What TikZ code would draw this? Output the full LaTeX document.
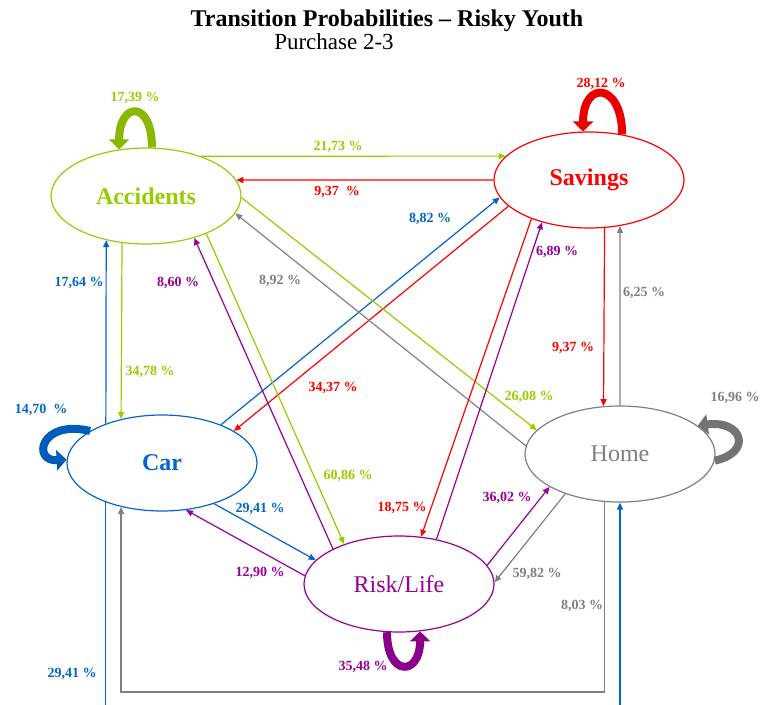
\documentclass[tikz,border=0pt]{standalone}
\usepackage{fontspec}
\setmainfont{Liberation Serif}
\usetikzlibrary{arrows.meta,shapes.geometric}
\definecolor{accgreen}{RGB}{153,204,0}
\definecolor{savred}{RGB}{255,0,0}
\definecolor{carblue}{RGB}{0,102,204}
\definecolor{homegray}{RGB}{128,128,128}
\definecolor{riskpurple}{RGB}{153,0,153}

\tikzset{
  stat/.style={ellipse,minimum width=190pt,minimum height=96pt,inner sep=0pt,
    line width=1.2pt,font=\fontsize{24}{24}\selectfont},
  trans/.style={line width=1.2pt,-{Triangle[length=7pt,width=6pt]}},
  selfarr/.style={line width=8pt,-{Triangle[length=10pt,width=20pt]}},
  pct/.style={font=\fontsize{14}{14}\selectfont\bfseries,inner sep=0pt}
}

\begin{document}
\begin{tikzpicture}[x=1pt,y=-1pt]
  \useasboundingbox (0,0) rectangle (760,704);
  \fill[white] (0,0) rectangle (760,704);
  \clip (0,0) rectangle (760,704);

  % title
  \node[font=\fontsize{24}{24}\selectfont\bfseries,anchor=base,inner sep=0pt] (title) at (387,27)
    {Transition Probabilities -- Risky Youth};
  \node[font=\fontsize{23}{23}\selectfont,anchor=base,inner sep=0pt] (sub) at (334,49) {Purchase 2-3};

  % states
  \foreach \n/\x/\y/\col/\f/\txt in {
    acc/146/196/accgreen/\bfseries/Accidents,
    sav/589/180/savred/\bfseries/Savings,
    car/162/463/carblue/\bfseries/Car,
    home/620/454/homegray/\mdseries/Home,
    risk/399/584/riskpurple/\mdseries/{Risk/Life}}{
    \node[stat,draw=\col,text=\col] (\n) at (\x,\y) {\f\txt};
  }

  % transitions between states
  \foreach \a/\aa/\b/\bb/\col in {
    acc/36/sav/164/accgreen,
    sav/180/acc/10/savred,
    acc/-117/car/133/accgreen,
    car/145/acc/-132/carblue,
    car/33/sav/-169/carblue,
    sav/-162/car/24/savred,
    acc/-32/risk/144/accgreen,
    risk/152/acc/-41/riskpurple,
    acc/-1/home/164/accgreen,
    home/175/acc/-11/homegray,
    sav/-72/home/109/savred,
    home/90/sav/-56/homegray,
    sav/-146/risk/65/savred,
    risk/50/sav/-138/riskpurple,
    risk/12/home/-155/riskpurple,
    home/-144/risk/1/homegray,
    car/-38/risk/164/carblue,
    risk/175/car/-63/riskpurple}{
    \draw[trans,\col] (\a.\aa) -- (\b.\bb);
  }

  % routed round the bottom
  \coordinate (bbot) at (0,730);
  \coordinate (gbot) at (0,692);
  \draw[trans,carblue] (car.-145) -- (car.-145 |- bbot) -| (home.-90);
  \draw[trans,homegray] (home.-108) -- (home.-108 |- gbot) -| (car.-133);

  % self loops
  \draw[selfarr,accgreen!90!black] (acc.83) .. controls +(0,-48) and +(0,-48) .. (acc.120);
  \draw[selfarr,savred!92!black] (sav.54) .. controls +(0,-52) and +(0,-52) .. (sav.97);
  \draw[selfarr,carblue!90!black] (car.156) .. controls +(-50,-12) and +(-35,2) .. (car.178);
  \draw[selfarr,homegray!90!black] (home.-4) .. controls +(38,-8) and +(45,-6) .. (home.20);
  \draw[selfarr,riskpurple!90!black] (risk.-104) .. controls +(0,45) and +(0,45) .. (risk.-66);

  % percentages
  \foreach \x/\y/\col/\v [count=\i] in {
    135/98/accgreen/{17,39 \%},
    338/147/accgreen/{21,73 \%},
    337/192/savred/{9,37\ \ \%},
    601/84/savred/{28,12 \%},
    430/219/carblue/{8,82 \%},
    557/252/riskpurple/{6,89 \%},
    79/283/carblue/{17,64 \%},
    178/283/riskpurple/{8,60 \%},
    280/281/homegray/{8,92 \%},
    644/293/homegray/{6,25 \%},
    150/372/accgreen/{34,78 \%},
    573/348/savred/{9,37 \%},
    333/388/savred/{34,37 \%},
    529/397/accgreen/{26,08 \%},
    41/410/carblue/{14,70\ \ \%},
    735/398/homegray/{16,96 \%},
    348/476/accgreen/{60,86 \%},
    260/509/carblue/{29,41 \%},
    402/508/savred/{18,75 \%},
    507/498/riskpurple/{36,02 \%},
    260/573/riskpurple/{12,90 \%},
    537/574/homegray/{59,82 \%},
    582/606/homegray/{8,03 \%},
    363/667/riskpurple/{35,48 \%},
    72/674/carblue/{29,41 \%}}{
    \node[pct,text=\col] (p\i) at (\x,\y) {\v};
  }
\end{tikzpicture}
\end{document}
